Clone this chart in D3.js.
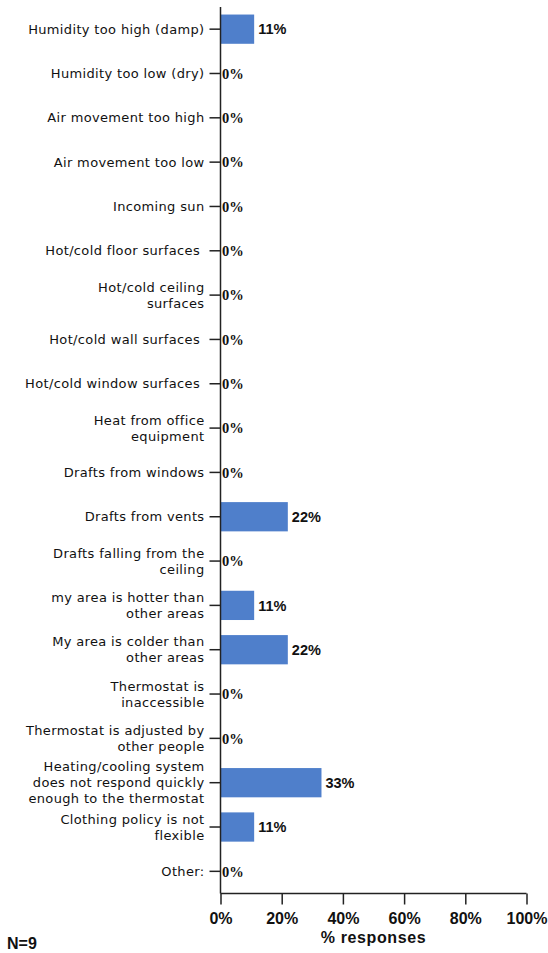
<!DOCTYPE html>
<html><head><meta charset="utf-8">
<script src="https://cdn.jsdelivr.net/npm/d3@7"></script>
<style>
html,body{margin:0;padding:0;background:#fff;}
svg{display:block;}
</style></head>
<body>
<script>
const categories = [
  "Humidity too high (damp)",
  "Humidity too low (dry)",
  "Air movement too high",
  "Air movement too low",
  "Incoming sun",
  "Hot/cold floor surfaces ",
  "Hot/cold ceiling\nsurfaces",
  "Hot/cold wall surfaces ",
  "Hot/cold window surfaces ",
  "Heat from office\nequipment",
  "Drafts from windows",
  "Drafts from vents",
  "Drafts falling from the\nceiling",
  "my area is hotter than\nother areas",
  "My area is colder than\nother areas",
  "Thermostat is\ninaccessible",
  "Thermostat is adjusted by\nother people",
  "Heating/cooling system\ndoes not respond quickly\nenough to the thermostat",
  "Clothing policy is not\nflexible",
  "Other:"
];
const values = [11, 0, 0, 0, 0, 0, 0, 0, 0, 0, 0, 22, 0, 11, 22, 0, 0, 33, 11, 0];
const xTicks = [0, 20, 40, 60, 80, 100];
const xTitle = "% responses";
const note = "N=9";

const W = 548, H = 953;
const svg = d3.select("body").append("svg").attr("width", W).attr("height", H);

const x = d3.scaleLinear().domain([0, 100]).range([220.5, 526.5]);
const y = d3.scaleBand().domain(categories).range([7, 893.5]).paddingInner(0.34).paddingOuter(0.17);

// bars
svg.append("g").selectAll("rect").data(categories).join("rect")
  .attr("x", x(0))
  .attr("y", d => y(d))
  .attr("width", (d, i) => x(values[i]) - x(0))
  .attr("height", y.bandwidth())
  .attr("fill", "#4f7fcb");

// value labels
svg.append("g").selectAll("text").data(categories).join("text")
  .attr("x", (d, i) => x(values[i]) + (values[i] > 0 ? 4 : 1.5))
  .attr("y", d => y(d) + y.bandwidth() / 2)
  .attr("dy", "0.36em")
  .attr("font-family", (d, i) => values[i] > 0 ? "Liberation Sans, Arial, sans-serif" : "Liberation Serif, Times New Roman, serif")
  .attr("font-weight", "bold")
  .attr("font-size", (d, i) => values[i] > 0 ? "14.5px" : "14.5px")
  .attr("fill", "#111")
  .text((d, i) => values[i] + "%");

// y axis
const yAxis = d3.axisLeft(y).tickSize(11).tickFormat("");
const gy = svg.append("g").attr("transform", `translate(${x(0)},0)`).call(yAxis);
gy.select(".domain").attr("d", `M0,7V893.5`).attr("stroke", "#222").attr("stroke-width", 1.5);
gy.selectAll(".tick line").attr("stroke", "#222").attr("stroke-width", 1.5);

// y labels (multi-line)
const lh = 16;
const labG = svg.append("g")
  .attr("font-family", "DejaVu Sans, Verdana, sans-serif")
  .attr("font-size", "13px")
  .attr("letter-spacing", "0.35px")
  .attr("fill", "#111")
  .attr("text-anchor", "end");
categories.forEach(c => {
  const lines = c.split("\n");
  const cy = y(c) + y.bandwidth() / 2;
  const t = labG.append("text").attr("x", 204.5).attr("y", cy).style("white-space", "pre");
  lines.forEach((ln, k) => {
    t.append("tspan").attr("x", 204.5)
      .attr("y", cy + (k - (lines.length - 1) / 2) * lh)
      .attr("dy", "0.36em")
      .text(ln);
  });
});

// x axis
const xAxis = d3.axisBottom(x).tickValues(xTicks).tickSize(11).tickPadding(8).tickFormat(d => d + "%");
const gx = svg.append("g").attr("transform", `translate(0,893.5)`).call(xAxis);
gx.select(".domain").attr("d", `M${x(0)},0H${x(100)}`).attr("stroke", "#222").attr("stroke-width", 1.5);
gx.selectAll(".tick line").attr("stroke", "#222").attr("stroke-width", 1.5);
gx.selectAll(".tick text")
  .attr("font-family", "Liberation Sans, Arial, sans-serif")
  .attr("font-weight", "bold")
  .attr("font-size", "16px")
  .attr("fill", "#111");

// x title
svg.append("text")
  .attr("x", (x(0) + x(100)) / 2)
  .attr("y", 943)
  .attr("text-anchor", "middle")
  .attr("font-family", "Liberation Sans, Arial, sans-serif")
  .attr("font-weight", "bold")
  .attr("font-size", "16px")
  .attr("letter-spacing", "0.6px")
  .attr("fill", "#111")
  .text(xTitle);

// note
svg.append("text")
  .attr("x", 7)
  .attr("y", 949)
  .attr("font-family", "Liberation Sans, Arial, sans-serif")
  .attr("font-weight", "bold")
  .attr("font-size", "16px")
  .attr("fill", "#111")
  .text(note);
</script>
</body></html>
